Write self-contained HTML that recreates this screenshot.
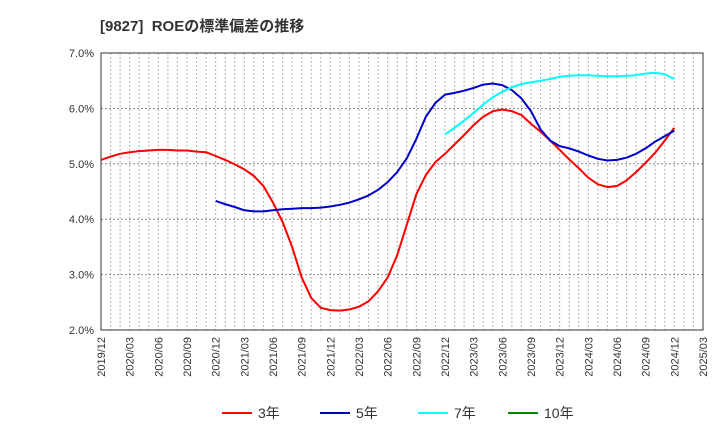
<!DOCTYPE html>
<html><head><meta charset="utf-8"><style>
body{margin:0;background:#fff;}
svg text{font-family:"Liberation Sans","Noto Sans CJK JP",sans-serif;}
</style></head><body>
<svg id="c" width="720" height="440" xmlns="http://www.w3.org/2000/svg">
<text x="100" y="31" font-size="15" font-weight="bold" fill="#333">[9827]&#160; ROEの標準偏差の推移</text>
<g id="grid"></g><g id="axes"></g><g id="series"></g><g id="legend"></g>
</svg>
<script>
const xLabels=["2019/12","2020/03","2020/06","2020/09","2020/12","2021/03","2021/06","2021/09","2021/12","2022/03","2022/06","2022/09","2022/12","2023/03","2023/06","2023/09","2023/12","2024/03","2024/06","2024/09","2024/12","2025/03"];
const yTicks=[2,3,4,5,6,7];
const s3Start=0;
const s3=[5.07,5.13,5.18,5.21,5.23,5.24,5.25,5.25,5.24,5.24,5.22,5.21,5.14,5.07,4.99,4.9,4.78,4.6,4.3,3.95,3.5,2.95,2.58,2.4,2.36,2.35,2.37,2.42,2.52,2.7,2.95,3.35,3.9,4.45,4.8,5.03,5.18,5.35,5.52,5.7,5.85,5.95,5.98,5.95,5.88,5.72,5.58,5.42,5.25,5.08,4.92,4.75,4.63,4.58,4.6,4.7,4.85,5.02,5.2,5.42,5.65];
const s5Start=12;
const s5=[4.33,4.27,4.22,4.16,4.14,4.14,4.16,4.18,4.19,4.2,4.2,4.21,4.23,4.26,4.3,4.36,4.43,4.53,4.67,4.85,5.1,5.45,5.85,6.1,6.25,6.28,6.32,6.37,6.43,6.45,6.42,6.33,6.18,5.95,5.62,5.42,5.32,5.28,5.22,5.15,5.09,5.06,5.07,5.11,5.18,5.28,5.4,5.5,5.6];
const s7Start=36;
const s7=[5.53,5.65,5.78,5.92,6.07,6.2,6.3,6.38,6.44,6.47,6.5,6.53,6.57,6.59,6.6,6.6,6.59,6.58,6.58,6.59,6.6,6.63,6.64,6.62,6.53];
const s10=[];
const L=101,R=703,T=53,B=330,NM=63;
const X=i=>L+(R-L)*i/NM;
const Y=v=>B-(B-T)*(v-2)/5;
const NS="http://www.w3.org/2000/svg";
function mk(tag,attrs,parent,txt){const e=document.createElementNS(NS,tag);for(const k in attrs)e.setAttribute(k,attrs[k]);if(txt!==undefined)e.textContent=txt;parent.appendChild(e);return e;}
const g=document.getElementById('grid'),ax=document.getElementById('axes'),sr=document.getElementById('series'),lg=document.getElementById('legend');
for(let i=1;i<NM;i++){const l=mk('line',{x1:X(i),x2:X(i),y1:T,y2:B,stroke:'#999','stroke-dasharray':'1.5,2.5','stroke-width':1},g);

}
yTicks.forEach(v=>{if(v>2&&v<7){const l=mk('line',{x1:L,x2:R,y1:Y(v),y2:Y(v),stroke:'#888','stroke-dasharray':'2,2','stroke-width':1},g);

}
const t=mk('text',{x:L-7,y:Y(v)+4,'font-size':11,'text-anchor':'end',fill:'#333'},ax,v.toFixed(1)+'%');

});
const fr=mk('rect',{x:L,y:T,width:R-L,height:B-T,fill:'none',stroke:'#333','stroke-width':1},ax);


xLabels.forEach((s,k)=>{const x=X(k*3);const t=mk('text',{x:0,y:0,'font-size':11,'text-anchor':'end',fill:'#333',transform:`translate(${x+4},${B+7}) rotate(-90)`},ax,s);

});
function line(arr,start,color,name){if(!arr.length)return;const p=arr.map((v,i)=>X(start+i).toFixed(1)+','+Y(v).toFixed(1)).join(' ');
const e=mk('polyline',{points:p,fill:'none',stroke:color,'stroke-width':2,'stroke-linejoin':'round'},sr);

}
line(s3,s3Start,'#f00','series-3y');
line(s5,s5Start,'#00c','series-5y');
line(s7,s7Start,'#0ff','series-7y');
line(s10,0,'#080','series-10y');
const leg=[['3年','#f00',222],['5年','#00c',320],['7年','#0ff',418],['10年','#080',508]];
leg.forEach(([n,c,x])=>{const gg=mk('g',{},lg);


mk('line',{x1:x,x2:x+30,y1:413,y2:413,stroke:c,'stroke-width':2},gg);
mk('text',{x:x+36,y:418,'font-size':14,fill:'#333'},gg,n);});
</script>
</body></html>
